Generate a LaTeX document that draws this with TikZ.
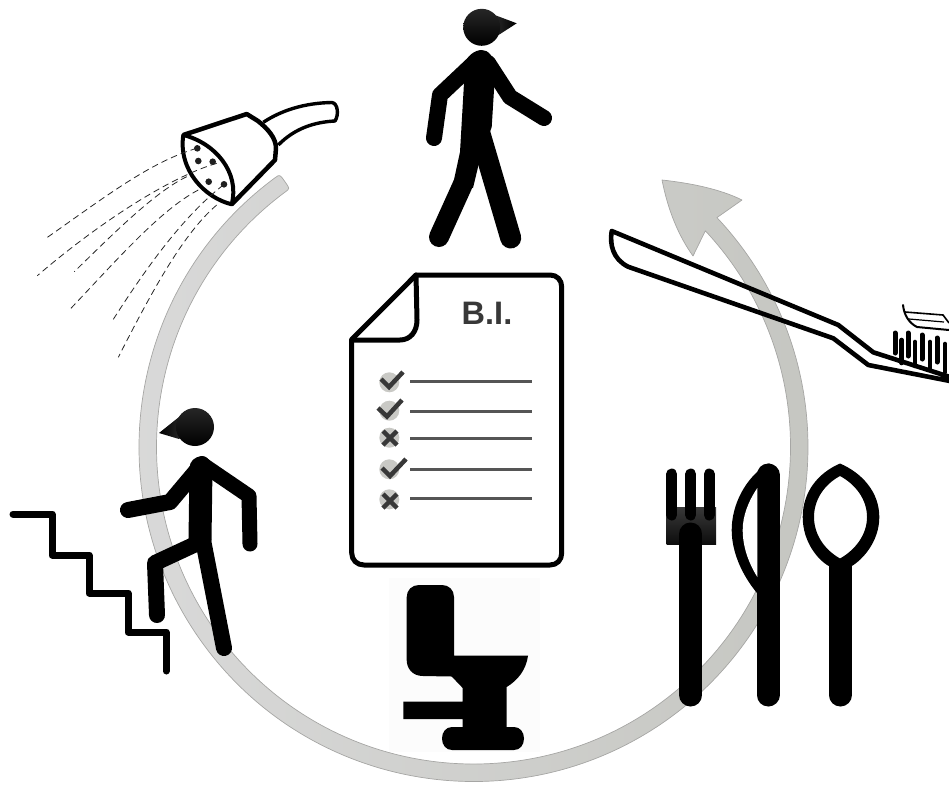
\documentclass[tikz,border=0pt]{standalone}
\usepackage{fontspec}
\setmainfont{Liberation Sans}
\definecolor{ringL}{HTML}{DADADA}
\definecolor{ringR}{HTML}{C5C6C1}
\definecolor{ringE}{HTML}{A6A6A4}
\definecolor{ink}{HTML}{383838}
\definecolor{rule}{HTML}{555555}
\definecolor{bullet}{HTML}{C9C9C5}
\tikzset{
  limb/.style={line width=#1,line cap=round,line join=round,black},
  outl/.style={line width=#1,line join=round,black},
  spray/.style={line width=.8pt,dash pattern=on 6.5pt off 4pt,black!85},
  tick/.style={line width=4.5pt,ink,line join=miter},
  rulel/.style={line width=2.6pt,rule},
  dotb/.style={fill=bullet,draw=none},
}
\begin{document}
\begin{tikzpicture}[x=1pt,y=-1pt]
\useasboundingbox (0,0) rectangle (949,785);
% ring arrow
\begin{scope}[shift={(473.5,447)}]
\path[draw=ringE,line width=.7pt,left color=ringL,right color=ringR,line join=round]
  (-125.4:325.5) .. controls (-125.4:334.5) and (-125.4:334.5) .. (-126.3:334.5)
  arc[radius=334.5,start angle=-126.3,end angle=-403.3]
  -- (268.5,-247)
  .. controls (246.5,-258) and (216.5,-264) .. (188.5,-267)
  .. controls (194.5,-237) and (204.5,-212) .. (219.5,-191)
  -- (-403:317)
  arc[radius=317,start angle=-403,end angle=-126.4]
  .. controls (-125.4:317) and (-125.4:317) .. cycle;
\end{scope}
% toilet
\fill[white!99!black] (389,578) rectangle (540,752);
\fill[black]
  (419,585) -- (442,585) .. controls (449,585) and (454,590) .. (454,597)
  -- (454,655.7) -- (528,655.7) .. controls (526,670) and (518,680) .. (506.7,687)
  -- (506.7,727) -- (514,727) .. controls (520,727) and (524,732) .. (524,738.5)
  .. controls (524,745) and (520,750) .. (514,750)
  -- (452,750) .. controls (446,750) and (442,745) .. (442,738.5)
  .. controls (442,732) and (446,727) .. (452,727)
  -- (462.7,727) -- (462.7,719) -- (403.3,719) -- (403.3,701.7) -- (462.7,701.7)
  -- (462.7,688) -- (451.7,676.5) -- (423,676)
  .. controls (412,676) and (406.7,668) .. (406.7,660) -- (406.7,597)
  .. controls (406.7,590) and (412,585) .. (419,585) -- cycle;
% walker top
\draw[limb=16pt] (475,62) -- (440,95) -- (434,138);
\draw[limb=16pt] (488,63) -- (510,97) -- (544,118);
\fill[black] (481.7,50) .. controls (488,50) and (494,56) .. (494,66) -- (494,90) -- (491.7,127)
  -- (479,163) -- (473,188) -- (453.3,183) -- (460,152) -- (464,83) -- (464,66)
  .. controls (466,56) and (475,50) .. (481.7,50) -- cycle;
\draw[limb=20pt] (463,184) -- (439,237);
\draw[limb=21pt] (479.5,132) -- (510.7,238);
\shade[left color=black!75,right color=black] (516.7,23.3) -- (496,15.5) -- (481.7,27.3) -- (497,36) -- cycle;
\shade[top color=black!85,bottom color=black] (481.7,27.3) circle[radius=18.5];
% stairs
\draw[line width=7pt,line cap=round,line join=round] (13,514) -- (52,514) -- (52,555) -- (89,555) -- (89,593) -- (128,593) -- (128,632) -- (166,632) -- (166,671);
% climber
\shade[left color=black,right color=black!75] (159,433) -- (179,417) -- (195,427) -- (179,439) -- cycle;
\shade[top color=black!85,bottom color=black] (195,427) circle[radius=19];
\draw[limb=23pt] (201,468) -- (200,540);
\draw[limb=15pt] (202,464) -- (249,496) -- (250,544);
\draw[limb=16pt] (202,464) -- (170,502) -- (128,510);
\draw[limb=16pt] (198,543) -- (155,563) -- (157,615);
\draw[limb=16pt] (203,540) -- (224,648);
% document
\node[inner sep=0pt,font=\bfseries\fontsize{32.5}{32.5}\selectfont,text=ink] (title) at (487,313) {B.I.};
\draw[outl=5pt,line cap=round] (416,275) -- (550,275) .. controls (557,275) and (561.7,280) .. (561.7,287)
  -- (561.7,553) .. controls (561.7,560) and (557,565) .. (550,565)
  -- (364,565) .. controls (357,565) and (351.7,560) .. (351.7,553)
  -- (351.7,339.5) -- cycle;
\draw[outl=5pt,line cap=round] (416,275) -- (417,320) .. controls (417,332) and (410,340) .. (400,340) -- (351.7,340);
\foreach \y in {381.7,411.7,438.3,469.3,498.7}{\draw[rulel] (410,\y) -- (531.7,\y);}
\foreach \y in {382.3,410.7,437.7,469.3,499.3}{\fill[dotb] (389.3,\y) circle[radius=10];}
\draw[tick] (381,379) -- (389,387) -- (403,372);
\draw[tick] (378,408) -- (387,416.5) -- (402,400);
\draw[tick] (383,431) -- (397,445) (397,431) -- (383,445);
\draw[tick] (382,468) -- (390,476) -- (406,459);
\draw[tick] (383,494) -- (397,508) (397,494) -- (383,508);
% fork
\shade[top color=black!78,bottom color=black!95] (666.7,507.5) rectangle (716,544);
\foreach \x in {671.7,690.7,709.3}{\draw[limb=11pt] (\x,474) -- (\x,515);}
\draw[limb=23pt] (690.7,534) -- (690.7,695);
% knife
\draw[limb=23pt] (768,475) -- (768,695);
\fill[black] (768,463.5) .. controls (745,478) and (731.7,505) .. (731.7,530)
  .. controls (731.7,552) and (742,575) .. (757,593) -- (770,593) -- (770,463.5) -- cycle;
\fill[white] (757.3,488) .. controls (748,502) and (742.7,516) .. (742.7,530)
  .. controls (742.7,546) and (748,562) .. (757.3,577) -- cycle;
% spoon
\draw[limb=23pt] (840.3,600) -- (840.3,695);
\fill[black] (828.8,600) rectangle (851.8,562);
\fill[black,even odd rule] (840,463.5) .. controls (862,473) and (879.3,492) .. (879.3,517)
  .. controls (879.3,542) and (862,560) .. (851.8,566) -- (828.8,566)
  .. controls (818,560) and (802.7,542) .. (802.7,517)
  .. controls (802.7,492) and (818,473) .. (840,463.5) -- cycle
  (840,476) .. controls (825,484) and (814,499) .. (814,517)
  .. controls (814,535) and (825,550) .. (840,558.5)
  .. controls (855,550) and (867,535) .. (867,517)
  .. controls (867,499) and (855,484) .. (840,476) -- cycle;
% toothbrush
\draw[outl=4.6pt] (950,377) -- (873.3,352.3) -- (838.3,325) -- (611.7,231)
  .. controls (609.5,245) and (613,259) .. (628,266.7)
  -- (833.3,338.3) -- (868.3,365) -- (950,381);
\foreach \x/\a/\b in {895/333/353,908/333/356,922/335/359,937/338/362}{\draw[limb=5pt] (\x,\a) -- (\x,\b);}
\foreach \x/\a/\b in {901.7/340/363,915/342/366,930/342/369,945/344/372}{\draw[limb=4.6pt] (\x,\a) -- (\x,\b);}
\draw[line width=2pt,line cap=round] (903,305) .. controls (904,315) and (909,323) .. (917,327) -- (949,330);
\draw[line width=1.6pt] (905,312) -- (943,315) -- (949,323);
\draw[line width=1.2pt] (909,319) -- (944,322);
% shower hose
\draw[line width=3.4pt,line join=round] (263.3,122.3) .. controls (282,110) and (305,103) .. (331.7,102.5)
  .. controls (338,103) and (339,115) .. (335,121) .. controls (315,122) and (295,128) .. (278.3,145);
% shower head
\fill[white] (183.3,135) -- (246.7,114) -- (266.7,126.7) .. controls (272,133) and (276,140) .. (276,148.3) -- (275,160) -- (231.7,204.3) -- cycle;
\draw[outl=4.5pt] (183.3,135) -- (246.7,114) -- (258,121) .. controls (268,129) and (276,138) .. (276,148.3) -- (275,160) -- (231.7,204.3);
\draw[outl=4pt] (183.3,135) .. controls (215,143) and (240,172) .. (231.7,204.3)
  .. controls (205,198) and (178,170) .. (183.3,135) -- cycle;
\foreach \x/\y in {197.3/148.3,198.3/161,212.7/161.7,208.7/181.7,224/184.3}{\fill[black!88] (\x,\y) circle[radius=3.3];}
% spray
\draw[spray] (196.7,148.3) .. controls (150,162) and (105,197) .. (46,238.3);
\draw[spray] (216.7,163.3) .. controls (170,177) and (100,222) .. (37.3,275.7);
\draw[spray] (186.7,176.7) .. controls (155,192) and (115,232) .. (74.3,271.7);
\draw[spray] (198.3,190) .. controls (160,210) and (115,262) .. (70,309.3);
\draw[spray] (223.3,185) .. controls (185,215) and (150,262) .. (113.3,319.3);
\draw[spray] (216.7,205) .. controls (185,232) and (155,285) .. (118.3,357.3);
\end{tikzpicture}
\end{document}
